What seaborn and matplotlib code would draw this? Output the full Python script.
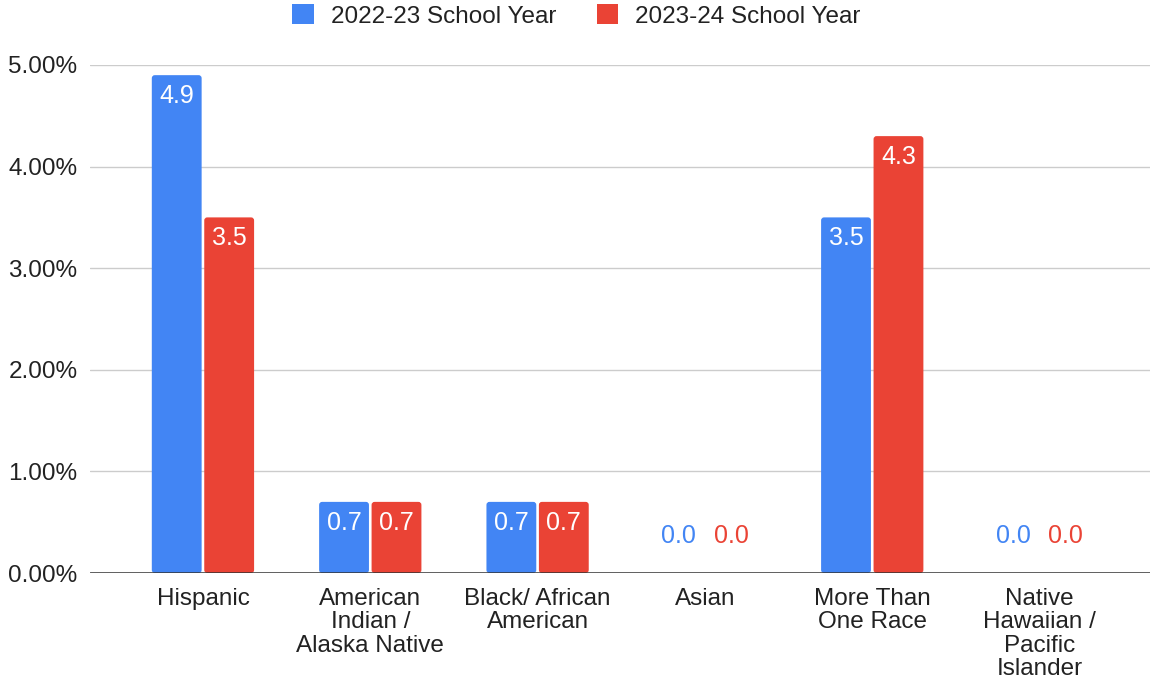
import matplotlib
matplotlib.use("Agg")
import matplotlib.pyplot as plt
from matplotlib.patches import Patch, FancyBboxPatch
import seaborn as sns
import pandas as pd

categories = [
    "Hispanic",
    "American\nIndian /\nAlaska Native",
    "Black/ African\nAmerican",
    "Asian",
    "More Than\nOne Race",
    "Native\nHawaiian /\nPacific\nIslander",
]
series_names = ["2022-23 School Year", "2023-24 School Year"]
values_2022 = [4.9, 0.7, 0.7, 0.0, 3.5, 0.0]
values_2023 = [3.5, 0.7, 0.7, 0.0, 4.3, 0.0]
y_ticks = [0, 1, 2, 3, 4, 5]
colors = ["#4285F4", "#EA4335"]

df = pd.DataFrame({
    "category": categories * 2,
    "series": [series_names[0]] * len(categories) + [series_names[1]] * len(categories),
    "value": values_2022 + values_2023,
})

sns.set_theme(style="white")
plt.rcParams["font.family"] = ["Liberation Sans", "DejaVu Sans"]

FS = 17.5
W, H = 1153, 681
fig = plt.figure(figsize=(W / 100, H / 100), dpi=100)
ax = fig.add_axes([90 / W, (H - 573) / H, (1150 - 90) / W, (573 - 65) / H])

sns.barplot(data=df, x="category", y="value", hue="series", order=categories,
            hue_order=series_names, palette=colors, width=0.627, gap=0.05,
            errorbar=None, legend=False, ax=ax, saturation=1)

ax.set_ylim(0, 5)
ax.set_xlim(-0.675, 5.66)

# round the top corners of each bar
px_x = 1 / 167.4
px_y = 1 / 101.6
for container in ax.containers:
    for rect in container:
        h = rect.get_height()
        if h <= 0:
            rect.set_visible(False)
            continue
        fb = FancyBboxPatch((rect.get_x(), rect.get_y()), rect.get_width(), h,
                            boxstyle=f"round,pad=0,rounding_size={3 * px_x}",
                            mutation_aspect=px_y / px_x,
                            facecolor=rect.get_facecolor(), edgecolor="none",
                            linewidth=0, zorder=2)
        ax.add_patch(fb)
        rect.set_visible(False)

# value labels
for container, vals, col in zip(ax.containers, [values_2022, values_2023], colors):
    for rect, v in zip(container, vals):
        xc = rect.get_x() + rect.get_width() / 2
        if v > 0:
            ax.annotate(f"{v:.1f}", (xc, v), xytext=(0, -21), textcoords="offset pixels",
                        ha="center", va="center", color="white", fontsize=18, zorder=4)
        else:
            ax.annotate(f"{v:.1f}", (xc, 0), xytext=(0, 37), textcoords="offset pixels",
                        ha="center", va="center", color=col, fontsize=18, zorder=4)

ax.set_yticks(y_ticks)
ax.set_yticklabels([f"{t:.2f}%" for t in y_ticks])
ax.yaxis.grid(True, color="#cccccc", linewidth=1)
ax.set_axisbelow(True)
ax.axhline(0, color="#333333", linewidth=1.8, zorder=3)
for s in ax.spines.values():
    s.set_visible(False)
ax.tick_params(axis="both", length=0, labelsize=FS, colors="#222222")
ax.tick_params(axis="y", pad=9)
ax.tick_params(axis="x", pad=11)
ax.set_xlabel("")
ax.set_ylabel("")
for lbl in ax.get_xticklabels():
    lbl.set_linespacing(1.07)

handles = [Patch(facecolor=c, edgecolor="none") for c in colors]
fig.legend(handles, series_names, loc="center", bbox_to_anchor=(0.5, 1 - 16 / H),
           ncol=2, frameon=False, fontsize=FS, handlelength=0.9, handleheight=0.9,
           columnspacing=1.65, handletextpad=0.7, labelcolor="#222222")

fig.savefig("out.png", dpi=100)
